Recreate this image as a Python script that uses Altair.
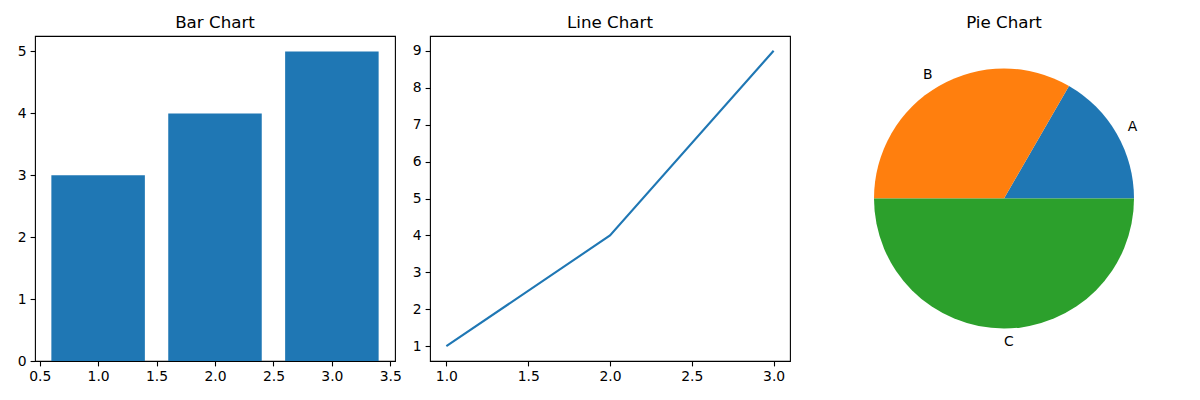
import math
import altair as alt
import pandas as pd

bar_x = [1, 2, 3]
bar_h = [3, 4, 5]
line_x = [1, 2, 3]
line_y = [1, 4, 9]
pie_labels = ["A", "B", "C"]
pie_values = [1, 2, 3]
pie_colors = ["#1f77b4", "#ff7f0e", "#2ca02c"]

FONT = "DejaVu Sans"
TITLE_SIZE = 16.7
TICK_SIZE = 13.9
FRAME = alt.ViewBackground(stroke="black", strokeWidth=1.1)


def title(t):
    return alt.TitleParams(t, font=FONT, fontSize=TITLE_SIZE, fontWeight="normal",
                           color="black", anchor="middle", offset=4)


def axis(values, fmt, extent=None):
    kw = dict(values=values, format=fmt, grid=False, domain=False, ticks=True,
              tickSize=4.9, tickWidth=1.1, tickColor="black", labelColor="black",
              labelFont=FONT, labelFontSize=TICK_SIZE, labelPadding=4,
              labelFlush=False, labelOverlap=False, title=None)
    if extent is not None:
        kw["minExtent"] = extent
        kw["maxExtent"] = extent
    return alt.Axis(**kw)


bar_df = pd.DataFrame({"x": bar_x, "h": bar_h})
bar = alt.Chart(bar_df, title=title("Bar Chart")).transform_calculate(
    x0="datum.x - 0.4", x1="datum.x + 0.4", base="0"
).mark_bar(color="#1f77b4").encode(
    x=alt.X("x0:Q", scale=alt.Scale(domain=[0.46, 3.54], nice=False, zero=False),
            axis=axis([0.5, 1.0, 1.5, 2.0, 2.5, 3.0, 3.5], ".1f")),
    x2="x1:Q",
    y=alt.Y("h:Q", scale=alt.Scale(domain=[0, 5.25], nice=False),
            axis=axis([0, 1, 2, 3, 4, 5], "d", 22)),
    y2="base:Q",
).properties(width=360, height=325, view=FRAME)

line_df = pd.DataFrame({"x": line_x, "y": line_y})
line = alt.Chart(line_df, title=title("Line Chart")).mark_line(
    color="#1f77b4", strokeWidth=2.1
).encode(
    x=alt.X("x:Q", scale=alt.Scale(domain=[0.9, 3.1], nice=False, zero=False),
            axis=axis([1.0, 1.5, 2.0, 2.5, 3.0], ".1f")),
    y=alt.Y("y:Q", scale=alt.Scale(domain=[0.6, 9.4], nice=False, zero=False),
            axis=axis(list(range(1, 10)), "d", 22)),
).properties(width=360, height=325, view=FRAME)

pie_df = pd.DataFrame({"label": pie_labels, "value": pie_values})
theta = alt.Theta("value:Q", stack=True,
                  scale=alt.Scale(range=[2.5 * math.pi, 0.5 * math.pi]))
order = alt.Order("label:N", sort="ascending")
base = alt.Chart(pie_df)
arcs = base.mark_arc(outerRadius=130).encode(
    theta=theta,
    order=order,
    color=alt.Color("label:N", scale=alt.Scale(domain=pie_labels, range=pie_colors),
                    legend=None),
)


def lab(name, align):
    return base.mark_text(radius=143, align=align, baseline="middle", font=FONT,
                          fontSize=TICK_SIZE, color="black").encode(
        theta=theta, order=order, text="label:N",
        opacity=alt.condition(alt.datum.label == name, alt.value(1), alt.value(0)),
    )


pie = alt.layer(arcs, lab("A", "left"), lab("B", "right"), lab("C", "left"),
                title=title("Pie Chart")).properties(
    width=358, height=325, view=alt.ViewBackground(stroke=None))

chart = alt.hconcat(bar, line, pie, spacing=35, bounds="flush").properties(
    padding={"left": 4, "top": 6, "right": 5, "bottom": 5}
).configure(background="white")

chart.save("out.html", embed_options={"renderer": "svg", "actions": False})
